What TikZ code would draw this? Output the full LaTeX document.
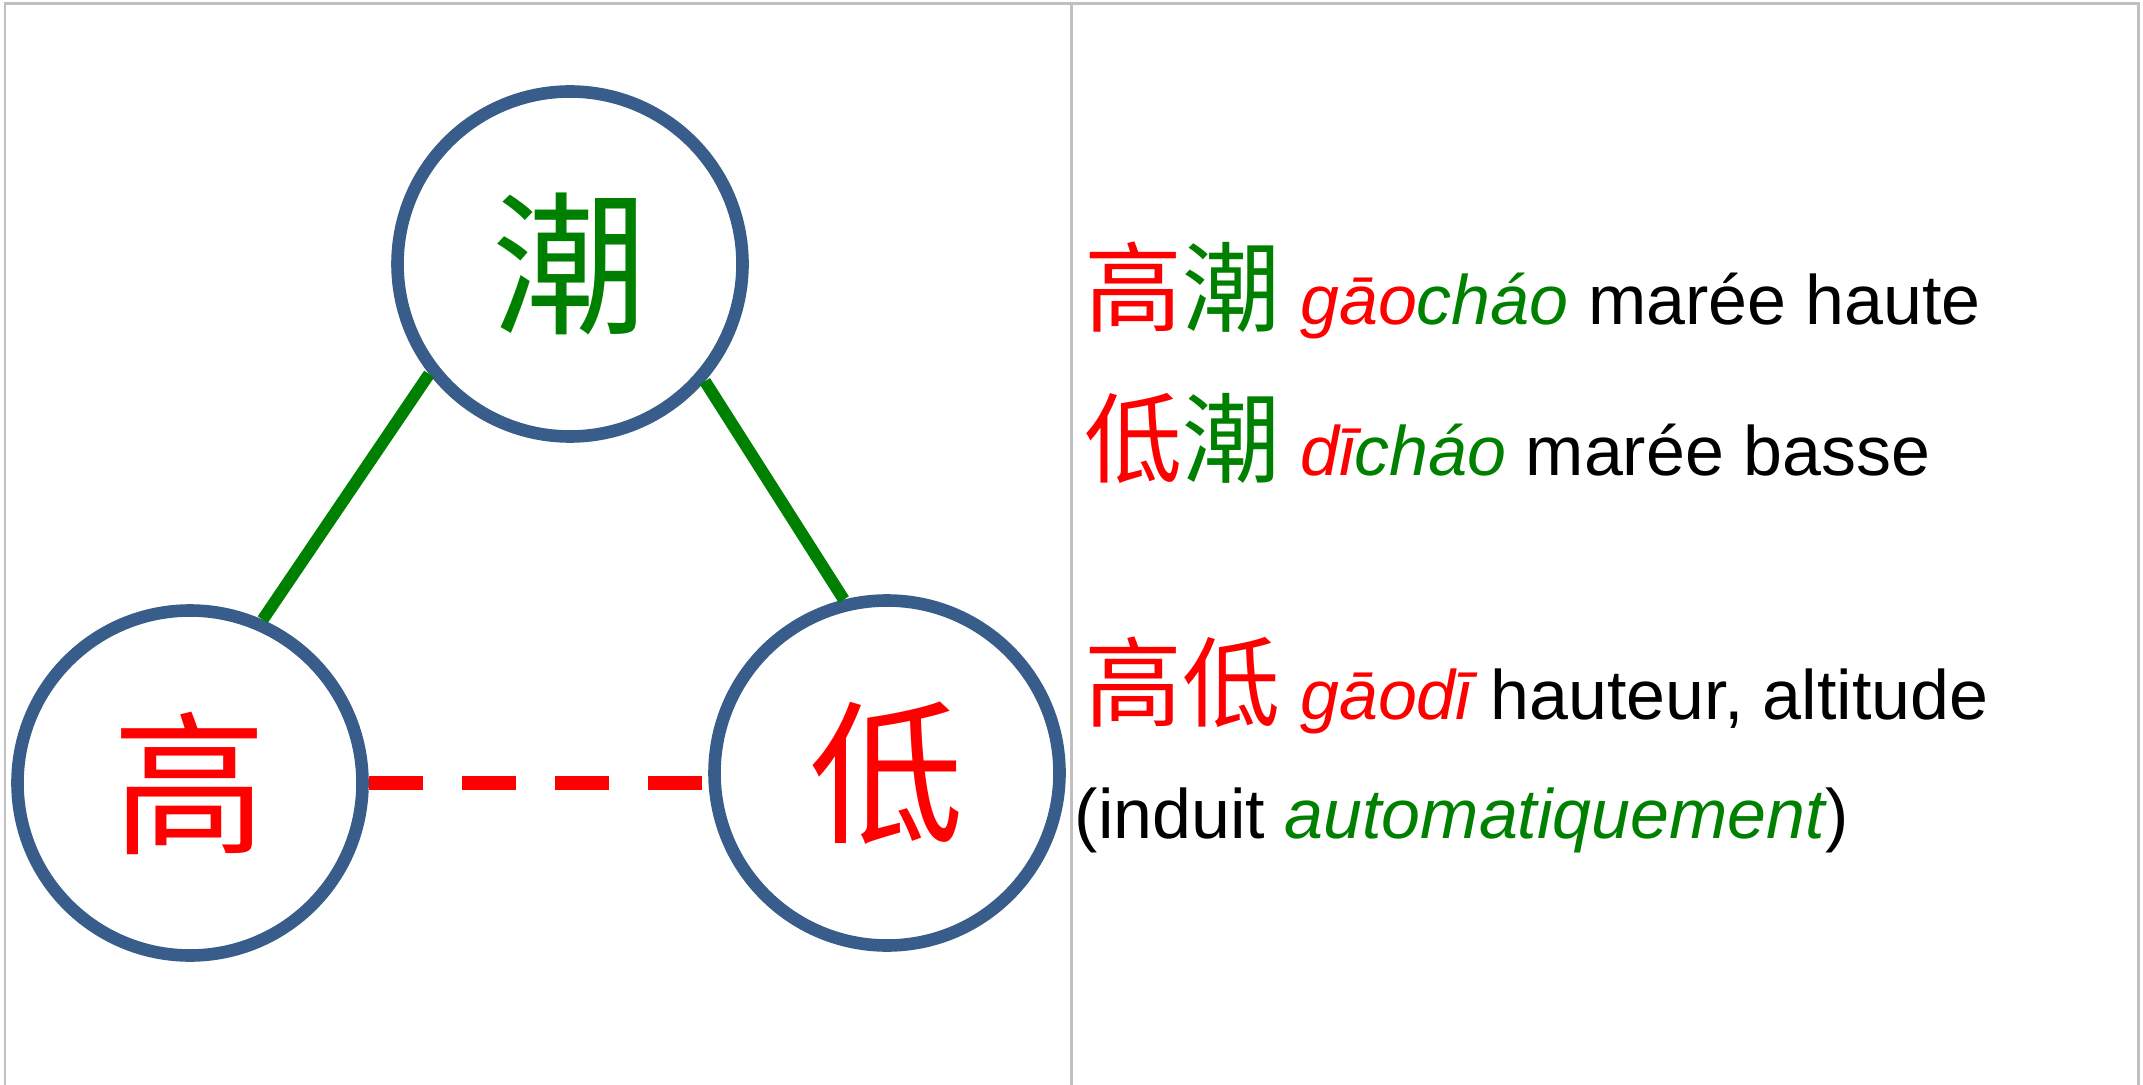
\documentclass[tikz,border=0pt]{standalone}
\usepackage{fontspec}
\setmainfont{Liberation Sans}
\newfontfamily\cjk{Noto Sans CJK SC}
\definecolor{leafgreen}{RGB}{0,128,0}
\definecolor{ringblue}{RGB}{56,93,138}
\definecolor{framegray}{RGB}{192,192,192}
\tikzset{
  ring/.style={circle, draw=ringblue, line width=1.26mm, minimum size=34.5mm,
    inner sep=0pt, font=\cjk\fontsize{44}{44}\selectfont},
  entry/.style={anchor=base west, inner sep=0pt, font=\fontsize{19.9}{24}\selectfont},
  tie/.style={draw=leafgreen, line width=1.2mm},
  cut/.style={draw=red, line width=1.4mm, dash pattern=on 5.4mm off 3.9mm}
}
\newcommand{\zi}[2]{{\color{#1}\cjk\fontsize{27.9}{28}\selectfont #2}}

\begin{document}
\begin{tikzpicture}[x=0.1mm, y=-0.1mm]
  \useasboundingbox (0,0) rectangle (2143,1085);
  \draw [framegray, line width=0.3mm] (5,1085) -- (5,4) -- (2138.5,4) -- (2138.5,1085);
  \draw [framegray, line width=0.3mm] (1071,4) -- (1071,1085);

  \node [ring, text=leafgreen] (chao) at (570,264) {潮};
  \node [ring, text=red] (gao) at (190,783) {高};
  \node [ring, text=red] (di) at (887,773) {低};
  \draw [tie] (chao.218) -- (gao.66);
  \draw [tie] (chao.-41) -- (di.104);
  \draw [cut] (gao.east) -- (gao.east -| di.west);

  \node [entry] (l1) at (1084,325) {\zi{red}{高}\zi{leafgreen}{潮}\ {\itshape\color{red}gāo\color{leafgreen}cháo} marée haute};
  \node [entry] (l2) at (1084,476) {\zi{red}{低}\zi{leafgreen}{潮}\ {\itshape\color{red}dī\color{leafgreen}cháo} marée basse};
  \node [entry] (l3) at (1084,719) {\zi{red}{高低}\ {\itshape\color{red}gāodī} hauteur, altitude};
  \node [entry] (l4) at (1074,838) {(induit {\itshape\color{leafgreen}automatiquement})};
\end{tikzpicture}
\end{document}
